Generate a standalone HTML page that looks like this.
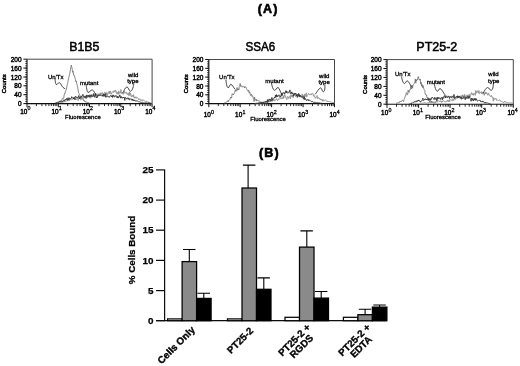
<!DOCTYPE html>
<html><head><meta charset="utf-8"><title>Figure</title>
<style>
html,body{margin:0;padding:0;background:#fff;}
svg{display:block;font-family:'Liberation Sans', sans-serif;}
</style></head>
<body>
<svg width="520" height="366" viewBox="0 0 520 366">
<defs><filter id="bl" x="0" y="0" width="520" height="366" filterUnits="userSpaceOnUse"><feGaussianBlur stdDeviation="0.4"/></filter></defs>
<rect width="520" height="366" fill="#fff"/>
<g filter="url(#bl)">
<path d="M27,59.2 H152.1 V103.6" fill="none" stroke="#333" stroke-width="0.9"/>
<path d="M27,59.2 V103.6 H152.1" fill="none" stroke="#111" stroke-width="1.15"/>
<line x1="23.4" y1="103.6" x2="27" y2="103.6" stroke="#111" stroke-width="1"/>
<text x="21.6" y="106.1" font-size="6.5" fill="#000" stroke="#000" stroke-width="0.42" text-anchor="end">0</text>
<line x1="23.4" y1="94.7" x2="27" y2="94.7" stroke="#111" stroke-width="1"/>
<text x="21.6" y="97.2" font-size="6.5" fill="#000" stroke="#000" stroke-width="0.42" text-anchor="end">40</text>
<line x1="23.4" y1="85.8" x2="27" y2="85.8" stroke="#111" stroke-width="1"/>
<text x="21.6" y="88.3" font-size="6.5" fill="#000" stroke="#000" stroke-width="0.42" text-anchor="end">80</text>
<line x1="23.4" y1="77.0" x2="27" y2="77.0" stroke="#111" stroke-width="1"/>
<text x="21.6" y="79.5" font-size="6.5" fill="#000" stroke="#000" stroke-width="0.42" text-anchor="end">120</text>
<line x1="23.4" y1="68.1" x2="27" y2="68.1" stroke="#111" stroke-width="1"/>
<text x="21.6" y="70.6" font-size="6.5" fill="#000" stroke="#000" stroke-width="0.42" text-anchor="end">160</text>
<line x1="23.4" y1="59.2" x2="27" y2="59.2" stroke="#111" stroke-width="1"/>
<text x="21.6" y="61.7" font-size="6.5" fill="#000" stroke="#000" stroke-width="0.42" text-anchor="end">200</text>
<line x1="25.3" y1="103.6" x2="27" y2="103.6" stroke="#111" stroke-width="0.85"/>
<line x1="25.3" y1="101.4" x2="27" y2="101.4" stroke="#111" stroke-width="0.85"/>
<line x1="25.3" y1="99.2" x2="27" y2="99.2" stroke="#111" stroke-width="0.85"/>
<line x1="25.3" y1="96.9" x2="27" y2="96.9" stroke="#111" stroke-width="0.85"/>
<line x1="25.3" y1="94.7" x2="27" y2="94.7" stroke="#111" stroke-width="0.85"/>
<line x1="25.3" y1="92.5" x2="27" y2="92.5" stroke="#111" stroke-width="0.85"/>
<line x1="25.3" y1="90.3" x2="27" y2="90.3" stroke="#111" stroke-width="0.85"/>
<line x1="25.3" y1="88.1" x2="27" y2="88.1" stroke="#111" stroke-width="0.85"/>
<line x1="25.3" y1="85.8" x2="27" y2="85.8" stroke="#111" stroke-width="0.85"/>
<line x1="25.3" y1="83.6" x2="27" y2="83.6" stroke="#111" stroke-width="0.85"/>
<line x1="25.3" y1="81.4" x2="27" y2="81.4" stroke="#111" stroke-width="0.85"/>
<line x1="25.3" y1="79.2" x2="27" y2="79.2" stroke="#111" stroke-width="0.85"/>
<line x1="25.3" y1="77.0" x2="27" y2="77.0" stroke="#111" stroke-width="0.85"/>
<line x1="25.3" y1="74.7" x2="27" y2="74.7" stroke="#111" stroke-width="0.85"/>
<line x1="25.3" y1="72.5" x2="27" y2="72.5" stroke="#111" stroke-width="0.85"/>
<line x1="25.3" y1="70.3" x2="27" y2="70.3" stroke="#111" stroke-width="0.85"/>
<line x1="25.3" y1="68.1" x2="27" y2="68.1" stroke="#111" stroke-width="0.85"/>
<line x1="25.3" y1="65.9" x2="27" y2="65.9" stroke="#111" stroke-width="0.85"/>
<line x1="25.3" y1="63.6" x2="27" y2="63.6" stroke="#111" stroke-width="0.85"/>
<line x1="25.3" y1="61.4" x2="27" y2="61.4" stroke="#111" stroke-width="0.85"/>
<line x1="27.0" y1="103.6" x2="27.0" y2="107.19999999999999" stroke="#111" stroke-width="1"/>
<text x="27.3" y="113.6" font-size="6.4" fill="#000" stroke="#000" stroke-width="0.42" text-anchor="end">10</text>
<text x="27.5" y="110.3" font-size="5.3" fill="#000" stroke="#000" stroke-width="0.3">0</text>
<line x1="36.4" y1="103.6" x2="36.4" y2="106.1" stroke="#111" stroke-width="0.9"/>
<line x1="41.9" y1="103.6" x2="41.9" y2="106.1" stroke="#111" stroke-width="0.9"/>
<line x1="45.8" y1="103.6" x2="45.8" y2="106.1" stroke="#111" stroke-width="0.9"/>
<line x1="48.9" y1="103.6" x2="48.9" y2="106.1" stroke="#111" stroke-width="0.9"/>
<line x1="51.3" y1="103.6" x2="51.3" y2="106.1" stroke="#111" stroke-width="0.9"/>
<line x1="53.4" y1="103.6" x2="53.4" y2="106.1" stroke="#111" stroke-width="0.9"/>
<line x1="55.2" y1="103.6" x2="55.2" y2="106.1" stroke="#111" stroke-width="0.9"/>
<line x1="56.8" y1="103.6" x2="56.8" y2="106.1" stroke="#111" stroke-width="0.9"/>
<line x1="58.3" y1="103.6" x2="58.3" y2="107.19999999999999" stroke="#111" stroke-width="1"/>
<text x="58.6" y="113.6" font-size="6.4" fill="#000" stroke="#000" stroke-width="0.42" text-anchor="end">10</text>
<text x="58.8" y="110.3" font-size="5.3" fill="#000" stroke="#000" stroke-width="0.3">1</text>
<line x1="67.7" y1="103.6" x2="67.7" y2="106.1" stroke="#111" stroke-width="0.9"/>
<line x1="73.2" y1="103.6" x2="73.2" y2="106.1" stroke="#111" stroke-width="0.9"/>
<line x1="77.1" y1="103.6" x2="77.1" y2="106.1" stroke="#111" stroke-width="0.9"/>
<line x1="80.1" y1="103.6" x2="80.1" y2="106.1" stroke="#111" stroke-width="0.9"/>
<line x1="82.6" y1="103.6" x2="82.6" y2="106.1" stroke="#111" stroke-width="0.9"/>
<line x1="84.7" y1="103.6" x2="84.7" y2="106.1" stroke="#111" stroke-width="0.9"/>
<line x1="86.5" y1="103.6" x2="86.5" y2="106.1" stroke="#111" stroke-width="0.9"/>
<line x1="88.1" y1="103.6" x2="88.1" y2="106.1" stroke="#111" stroke-width="0.9"/>
<line x1="89.5" y1="103.6" x2="89.5" y2="107.19999999999999" stroke="#111" stroke-width="1"/>
<text x="89.8" y="113.6" font-size="6.4" fill="#000" stroke="#000" stroke-width="0.42" text-anchor="end">10</text>
<text x="90.0" y="110.3" font-size="5.3" fill="#000" stroke="#000" stroke-width="0.3">2</text>
<line x1="99.0" y1="103.6" x2="99.0" y2="106.1" stroke="#111" stroke-width="0.9"/>
<line x1="104.5" y1="103.6" x2="104.5" y2="106.1" stroke="#111" stroke-width="0.9"/>
<line x1="108.4" y1="103.6" x2="108.4" y2="106.1" stroke="#111" stroke-width="0.9"/>
<line x1="111.4" y1="103.6" x2="111.4" y2="106.1" stroke="#111" stroke-width="0.9"/>
<line x1="113.9" y1="103.6" x2="113.9" y2="106.1" stroke="#111" stroke-width="0.9"/>
<line x1="116.0" y1="103.6" x2="116.0" y2="106.1" stroke="#111" stroke-width="0.9"/>
<line x1="117.8" y1="103.6" x2="117.8" y2="106.1" stroke="#111" stroke-width="0.9"/>
<line x1="119.4" y1="103.6" x2="119.4" y2="106.1" stroke="#111" stroke-width="0.9"/>
<line x1="120.8" y1="103.6" x2="120.8" y2="107.19999999999999" stroke="#111" stroke-width="1"/>
<text x="121.1" y="113.6" font-size="6.4" fill="#000" stroke="#000" stroke-width="0.42" text-anchor="end">10</text>
<text x="121.3" y="110.3" font-size="5.3" fill="#000" stroke="#000" stroke-width="0.3">3</text>
<line x1="130.2" y1="103.6" x2="130.2" y2="106.1" stroke="#111" stroke-width="0.9"/>
<line x1="135.7" y1="103.6" x2="135.7" y2="106.1" stroke="#111" stroke-width="0.9"/>
<line x1="139.7" y1="103.6" x2="139.7" y2="106.1" stroke="#111" stroke-width="0.9"/>
<line x1="142.7" y1="103.6" x2="142.7" y2="106.1" stroke="#111" stroke-width="0.9"/>
<line x1="145.2" y1="103.6" x2="145.2" y2="106.1" stroke="#111" stroke-width="0.9"/>
<line x1="147.3" y1="103.6" x2="147.3" y2="106.1" stroke="#111" stroke-width="0.9"/>
<line x1="149.1" y1="103.6" x2="149.1" y2="106.1" stroke="#111" stroke-width="0.9"/>
<line x1="150.7" y1="103.6" x2="150.7" y2="106.1" stroke="#111" stroke-width="0.9"/>
<line x1="152.1" y1="103.6" x2="152.1" y2="107.19999999999999" stroke="#111" stroke-width="1"/>
<text x="152.4" y="113.6" font-size="6.4" fill="#000" stroke="#000" stroke-width="0.42" text-anchor="end">10</text>
<text x="152.6" y="110.3" font-size="5.3" fill="#000" stroke="#000" stroke-width="0.3">4</text>
<text transform="translate(5.899999999999999,83.8) rotate(-90)" font-size="6" fill="#000" stroke="#000" stroke-width="0.42" text-anchor="middle">Counts</text>
<text x="65.1" y="118.5" font-size="6" fill="#000" stroke="#000" stroke-width="0.3" textLength="35.6" lengthAdjust="spacingAndGlyphs">Fluorescence</text>
<text x="69.2" y="51" font-size="13.1" fill="#000" stroke="#000" stroke-width="0.55" textLength="30.2" lengthAdjust="spacingAndGlyphs">B1B5</text>
<path d="M56.0,103.3 L56.5,102.9 L56.9,102.7 L57.4,102.1 L57.8,102.4 L58.3,102.1 L58.7,101.9 L59.2,101.9 L59.6,101.8 L60.1,101.1 L60.5,100.7 L61.0,100.4 L61.4,100.6 L61.9,100.1 L62.3,98.6 L62.8,98.2 L63.2,98.7 L63.7,98.2 L64.1,95.3 L64.6,93.4 L65.0,93.6 L65.5,90.9 L65.9,90.5 L66.4,89.7 L66.8,87.0 L67.3,84.5 L67.7,83.2 L68.2,80.0 L68.6,78.5 L69.1,76.2 L69.5,74.6 L70.0,72.1 L70.4,69.7 L70.9,66.8 L71.3,65.1 L71.8,67.1 L72.2,69.3 L72.7,72.3 L73.1,71.2 L73.6,75.1 L74.0,75.0 L74.5,75.5 L74.9,77.8 L75.4,79.3 L75.8,81.5 L76.3,80.9 L76.7,83.3 L77.2,85.2 L77.6,86.7 L78.1,90.0 L78.5,92.5 L79.0,93.5 L79.4,94.8 L79.9,95.2 L80.3,96.0 L80.8,96.6 L81.2,98.2 L81.7,96.9 L82.1,98.2 L82.6,99.2 L83.0,98.5 L83.5,100.6 L83.9,99.9 L84.4,100.6 L84.8,101.8 L85.3,101.1 L85.7,101.6 L86.2,102.4 L86.6,101.9 L87.1,102.2 L87.5,102.5 L88.0,102.6 L88.4,102.7 L88.9,102.8 L89.3,103.1 L89.8,103.2" fill="none" stroke="#6a6a6a" stroke-width="0.8" stroke-linejoin="round"/>
<path d="M57.0,103.2 L57.5,102.9 L57.9,102.9 L58.4,102.5 L58.8,102.8 L59.3,102.3 L59.7,102.5 L60.2,102.4 L60.6,102.1 L61.1,103.0 L61.5,101.9 L62.0,102.2 L62.4,102.3 L62.9,101.4 L63.3,102.2 L63.8,101.5 L64.2,101.9 L64.7,100.9 L65.1,100.8 L65.6,101.7 L66.0,101.3 L66.5,101.0 L66.9,101.1 L67.4,101.0 L67.8,99.9 L68.3,99.1 L68.7,99.3 L69.2,99.1 L69.6,98.7 L70.1,99.6 L70.5,99.6 L71.0,99.8 L71.4,99.9 L71.9,99.4 L72.3,99.4 L72.8,99.5 L73.2,98.6 L73.7,98.7 L74.1,99.2 L74.6,98.5 L75.0,98.5 L75.5,98.8 L75.9,100.0 L76.4,99.0 L76.8,98.3 L77.3,97.9 L77.7,98.3 L78.2,100.6 L78.6,95.0 L79.1,98.7 L79.5,98.3 L80.0,98.9 L80.4,96.6 L80.9,100.1 L81.3,98.8 L81.8,97.5 L82.2,97.7 L82.7,96.6 L83.1,97.4 L83.6,97.1 L84.0,98.3 L84.5,97.5 L84.9,97.0 L85.4,97.8 L85.8,97.6 L86.3,97.1 L86.7,95.0 L87.2,97.9 L87.6,95.3 L88.1,95.4 L88.5,96.4 L89.0,97.0 L89.4,98.0 L89.9,94.4 L90.3,97.9 L90.8,98.1 L91.2,95.6 L91.7,95.8 L92.1,95.3 L92.6,95.2 L93.0,94.3 L93.5,93.8 L93.9,95.4 L94.4,95.9 L94.8,97.6 L95.3,94.3 L95.7,93.0 L96.2,95.5 L96.6,94.7 L97.1,95.6 L97.5,94.6 L98.0,93.6 L98.4,94.1 L98.9,95.7 L99.3,95.0 L99.8,93.5 L100.2,95.5 L100.7,92.8 L101.1,93.7 L101.6,94.5 L102.0,92.6 L102.5,92.7 L102.9,94.0 L103.4,93.8 L103.8,93.5 L104.3,93.0 L104.7,92.3 L105.2,92.6 L105.6,96.9 L106.1,92.6 L106.5,95.0 L107.0,92.5 L107.4,94.6 L107.9,94.4 L108.3,93.4 L108.8,92.1 L109.2,91.2 L109.7,93.8 L110.1,91.1 L110.6,91.1 L111.0,94.2 L111.5,94.1 L111.9,92.4 L112.4,92.0 L112.8,91.5 L113.3,92.6 L113.7,91.6 L114.2,90.4 L114.6,91.2 L115.1,92.3 L115.5,90.2 L116.0,90.9 L116.4,92.2 L116.9,94.1 L117.3,92.4 L117.8,92.2 L118.2,94.4 L118.7,91.0 L119.1,91.4 L119.6,93.3 L120.0,93.6 L120.5,92.9 L120.9,89.4 L121.4,93.3 L121.8,93.3 L122.3,92.7 L122.7,93.5 L123.2,94.4 L123.6,93.0 L124.1,91.9 L124.5,91.0 L125.0,93.3 L125.4,92.5 L125.9,92.7 L126.3,92.2 L126.8,93.9 L127.2,94.5 L127.7,94.4 L128.1,92.8 L128.6,95.4 L129.0,94.9 L129.5,91.9 L129.9,95.7 L130.4,92.9 L130.8,94.1 L131.3,96.9 L131.7,96.6 L132.2,95.3 L132.6,95.3 L133.1,96.9 L133.5,94.7 L134.0,97.4 L134.4,96.9 L134.9,98.3 L135.3,97.5 L135.8,96.7 L136.2,98.3 L136.7,98.0 L137.1,97.2 L137.6,97.7 L138.0,98.1 L138.5,99.2 L138.9,100.0 L139.4,99.5 L139.8,98.7 L140.3,99.5 L140.7,100.4 L141.2,100.8 L141.6,99.7 L142.1,100.6 L142.5,100.4 L143.0,99.6 L143.4,100.2 L143.9,100.8 L144.3,100.9 L144.8,101.1 L145.2,101.2 L145.7,101.7 L146.1,101.3 L146.6,101.2 L147.0,102.1 L147.5,101.9 L147.9,102.4 L148.4,102.1 L148.8,102.7 L149.3,102.2 L149.7,102.3 L150.2,102.8 L150.6,103.0 L151.1,102.7 L151.5,103.2 L152.0,103.3" fill="none" stroke="#8c8c8c" stroke-width="0.9" stroke-linejoin="round"/>
<path d="M55.0,103.0 L55.5,103.1 L55.9,102.8 L56.4,102.7 L56.8,102.8 L57.3,102.5 L57.7,102.6 L58.2,102.3 L58.6,102.4 L59.1,101.5 L59.5,101.4 L60.0,101.0 L60.4,101.6 L60.9,101.1 L61.3,101.5 L61.8,101.1 L62.2,100.9 L62.7,101.8 L63.1,100.9 L63.6,100.4 L64.0,99.7 L64.5,100.9 L64.9,100.7 L65.4,99.2 L65.8,99.7 L66.3,99.8 L66.7,98.3 L67.2,99.1 L67.6,100.3 L68.1,97.7 L68.5,99.4 L69.0,100.5 L69.4,98.1 L69.9,98.1 L70.3,98.6 L70.8,98.8 L71.2,98.6 L71.7,96.7 L72.1,97.3 L72.6,98.1 L73.0,97.6 L73.5,99.0 L73.9,97.4 L74.4,97.2 L74.8,99.6 L75.3,97.4 L75.7,96.3 L76.2,97.3 L76.6,97.0 L77.1,97.9 L77.5,97.6 L78.0,96.7 L78.4,96.6 L78.9,96.3 L79.3,98.3 L79.8,99.0 L80.2,96.7 L80.7,97.3 L81.1,97.0 L81.6,96.0 L82.0,95.9 L82.5,95.9 L82.9,94.3 L83.4,95.6 L83.8,96.9 L84.3,97.4 L84.7,96.1 L85.2,95.9 L85.6,97.0 L86.1,98.5 L86.5,95.2 L87.0,95.3 L87.4,95.7 L87.9,96.7 L88.3,95.2 L88.8,96.6 L89.2,95.3 L89.7,96.6 L90.1,95.7 L90.6,95.5 L91.0,96.9 L91.5,94.7 L91.9,95.2 L92.4,96.8 L92.8,96.8 L93.3,96.2 L93.7,93.6 L94.2,96.8 L94.6,96.4 L95.1,95.6 L95.5,93.9 L96.0,96.9 L96.4,97.9 L96.9,96.6 L97.3,97.5 L97.8,95.3 L98.2,96.2 L98.7,95.3 L99.1,94.8 L99.6,95.6 L100.0,95.0 L100.5,95.2 L100.9,95.2 L101.4,95.6 L101.8,95.7 L102.3,96.2 L102.7,94.7 L103.2,96.4 L103.6,94.1 L104.1,96.2 L104.5,96.2 L105.0,93.6 L105.4,95.8 L105.9,97.4 L106.3,96.7 L106.8,95.7 L107.2,95.6 L107.7,96.6 L108.1,96.4 L108.6,97.2 L109.0,96.4 L109.5,97.3 L109.9,96.7 L110.4,95.5 L110.8,95.3 L111.3,95.8 L111.7,96.9 L112.2,95.5 L112.6,97.5 L113.1,94.9 L113.5,96.3 L114.0,95.6 L114.4,97.0 L114.9,96.9 L115.3,96.6 L115.8,95.4 L116.2,95.9 L116.7,96.2 L117.1,98.0 L117.6,96.3 L118.0,97.6 L118.5,98.1 L118.9,96.2 L119.4,96.6 L119.8,94.8 L120.3,96.9 L120.7,98.2 L121.2,96.4 L121.6,97.9 L122.1,98.4 L122.5,98.0 L123.0,97.2 L123.4,98.0 L123.9,97.1 L124.3,97.5 L124.8,100.4 L125.2,97.5 L125.7,97.5 L126.1,98.4 L126.6,98.6 L127.0,99.2 L127.5,97.9 L127.9,97.8 L128.4,98.0 L128.8,99.6 L129.3,99.9 L129.7,98.5 L130.2,98.8 L130.6,99.3 L131.1,98.7 L131.5,99.2 L132.0,100.4 L132.4,99.0 L132.9,100.2 L133.3,100.8 L133.8,99.6 L134.2,101.0 L134.7,100.5 L135.1,100.3 L135.6,101.2 L136.0,100.9 L136.5,100.9 L136.9,100.9 L137.4,101.0 L137.8,101.2 L138.3,101.5 L138.7,101.9 L139.2,101.7 L139.6,101.9 L140.1,101.8 L140.5,102.2 L141.0,102.1 L141.4,102.6 L141.9,102.4 L142.3,102.1 L142.8,102.5 L143.2,102.5 L143.7,102.9 L144.1,102.8 L144.6,103.0 L145.0,103.0 L145.5,102.8 L145.9,102.8 L146.4,102.9 L146.8,102.8 L147.3,103.4 L147.7,103.1 L148.2,102.8 L148.6,102.8 L149.1,103.1 L149.5,103.0 L150.0,102.8" fill="none" stroke="#303030" stroke-width="0.9" stroke-linejoin="round"/>
<text x="48" y="78.6" font-size="6" fill="#000" stroke="#000" stroke-width="0.3">Un'Tx</text>
<text x="80" y="85.1" font-size="6" fill="#000" stroke="#000" stroke-width="0.3">mutant</text>
<text x="128" y="76.8" font-size="6" fill="#000" stroke="#000" stroke-width="0.3">wild</text>
<text x="127.2" y="83.4" font-size="6" fill="#000" stroke="#000" stroke-width="0.3">type</text>
<path d="M55,78.5 C55.3,81 55.3,84 56.4,84.6 C57.6,84.8 58,82.4 59.4,82.7 C61,83.2 61.6,86.2 63,87.4 L65,88.8" fill="none" stroke="#111" stroke-width="0.75" stroke-linecap="round"/>
<path d="M86.2,85.8 C86.6,88 87,91.8 88,92.5 C89.4,92.8 90.6,89.6 92.5,90 C94,90.6 94.6,93.4 96.3,95" fill="none" stroke="#111" stroke-width="0.75" stroke-linecap="round"/>
<path d="M133.8,83.2 C133.6,86 132.6,90.7 130.6,91.3 C128.8,91.2 128.6,87 126.9,86.9 C125,87.4 124,91 122.7,93" fill="none" stroke="#111" stroke-width="0.75" stroke-linecap="round"/>
<path d="M208.8,59.5 H334.5 V103.6" fill="none" stroke="#333" stroke-width="0.9"/>
<path d="M208.8,59.5 V103.6 H334.5" fill="none" stroke="#111" stroke-width="1.15"/>
<line x1="205.20000000000002" y1="103.6" x2="208.8" y2="103.6" stroke="#111" stroke-width="1"/>
<text x="203.4" y="106.1" font-size="6.5" fill="#000" stroke="#000" stroke-width="0.42" text-anchor="end">0</text>
<line x1="205.20000000000002" y1="94.8" x2="208.8" y2="94.8" stroke="#111" stroke-width="1"/>
<text x="203.4" y="97.3" font-size="6.5" fill="#000" stroke="#000" stroke-width="0.42" text-anchor="end">40</text>
<line x1="205.20000000000002" y1="86.0" x2="208.8" y2="86.0" stroke="#111" stroke-width="1"/>
<text x="203.4" y="88.5" font-size="6.5" fill="#000" stroke="#000" stroke-width="0.42" text-anchor="end">80</text>
<line x1="205.20000000000002" y1="77.1" x2="208.8" y2="77.1" stroke="#111" stroke-width="1"/>
<text x="203.4" y="79.6" font-size="6.5" fill="#000" stroke="#000" stroke-width="0.42" text-anchor="end">120</text>
<line x1="205.20000000000002" y1="68.3" x2="208.8" y2="68.3" stroke="#111" stroke-width="1"/>
<text x="203.4" y="70.8" font-size="6.5" fill="#000" stroke="#000" stroke-width="0.42" text-anchor="end">160</text>
<line x1="205.20000000000002" y1="59.5" x2="208.8" y2="59.5" stroke="#111" stroke-width="1"/>
<text x="203.4" y="62.0" font-size="6.5" fill="#000" stroke="#000" stroke-width="0.42" text-anchor="end">200</text>
<line x1="207.10000000000002" y1="103.6" x2="208.8" y2="103.6" stroke="#111" stroke-width="0.85"/>
<line x1="207.10000000000002" y1="101.4" x2="208.8" y2="101.4" stroke="#111" stroke-width="0.85"/>
<line x1="207.10000000000002" y1="99.2" x2="208.8" y2="99.2" stroke="#111" stroke-width="0.85"/>
<line x1="207.10000000000002" y1="97.0" x2="208.8" y2="97.0" stroke="#111" stroke-width="0.85"/>
<line x1="207.10000000000002" y1="94.8" x2="208.8" y2="94.8" stroke="#111" stroke-width="0.85"/>
<line x1="207.10000000000002" y1="92.6" x2="208.8" y2="92.6" stroke="#111" stroke-width="0.85"/>
<line x1="207.10000000000002" y1="90.4" x2="208.8" y2="90.4" stroke="#111" stroke-width="0.85"/>
<line x1="207.10000000000002" y1="88.2" x2="208.8" y2="88.2" stroke="#111" stroke-width="0.85"/>
<line x1="207.10000000000002" y1="86.0" x2="208.8" y2="86.0" stroke="#111" stroke-width="0.85"/>
<line x1="207.10000000000002" y1="83.8" x2="208.8" y2="83.8" stroke="#111" stroke-width="0.85"/>
<line x1="207.10000000000002" y1="81.5" x2="208.8" y2="81.5" stroke="#111" stroke-width="0.85"/>
<line x1="207.10000000000002" y1="79.3" x2="208.8" y2="79.3" stroke="#111" stroke-width="0.85"/>
<line x1="207.10000000000002" y1="77.1" x2="208.8" y2="77.1" stroke="#111" stroke-width="0.85"/>
<line x1="207.10000000000002" y1="74.9" x2="208.8" y2="74.9" stroke="#111" stroke-width="0.85"/>
<line x1="207.10000000000002" y1="72.7" x2="208.8" y2="72.7" stroke="#111" stroke-width="0.85"/>
<line x1="207.10000000000002" y1="70.5" x2="208.8" y2="70.5" stroke="#111" stroke-width="0.85"/>
<line x1="207.10000000000002" y1="68.3" x2="208.8" y2="68.3" stroke="#111" stroke-width="0.85"/>
<line x1="207.10000000000002" y1="66.1" x2="208.8" y2="66.1" stroke="#111" stroke-width="0.85"/>
<line x1="207.10000000000002" y1="63.9" x2="208.8" y2="63.9" stroke="#111" stroke-width="0.85"/>
<line x1="207.10000000000002" y1="61.7" x2="208.8" y2="61.7" stroke="#111" stroke-width="0.85"/>
<line x1="208.8" y1="103.6" x2="208.8" y2="107.19999999999999" stroke="#111" stroke-width="1"/>
<text x="210.8" y="116.8" font-size="6.4" fill="#000" stroke="#000" stroke-width="0.42" text-anchor="end">10</text>
<text x="211.0" y="113.5" font-size="5.3" fill="#000" stroke="#000" stroke-width="0.3">0</text>
<line x1="218.3" y1="103.6" x2="218.3" y2="106.1" stroke="#111" stroke-width="0.9"/>
<line x1="223.8" y1="103.6" x2="223.8" y2="106.1" stroke="#111" stroke-width="0.9"/>
<line x1="227.7" y1="103.6" x2="227.7" y2="106.1" stroke="#111" stroke-width="0.9"/>
<line x1="230.8" y1="103.6" x2="230.8" y2="106.1" stroke="#111" stroke-width="0.9"/>
<line x1="233.3" y1="103.6" x2="233.3" y2="106.1" stroke="#111" stroke-width="0.9"/>
<line x1="235.4" y1="103.6" x2="235.4" y2="106.1" stroke="#111" stroke-width="0.9"/>
<line x1="237.2" y1="103.6" x2="237.2" y2="106.1" stroke="#111" stroke-width="0.9"/>
<line x1="238.8" y1="103.6" x2="238.8" y2="106.1" stroke="#111" stroke-width="0.9"/>
<line x1="240.2" y1="103.6" x2="240.2" y2="107.19999999999999" stroke="#111" stroke-width="1"/>
<text x="242.2" y="116.8" font-size="6.4" fill="#000" stroke="#000" stroke-width="0.42" text-anchor="end">10</text>
<text x="242.4" y="113.5" font-size="5.3" fill="#000" stroke="#000" stroke-width="0.3">1</text>
<line x1="249.7" y1="103.6" x2="249.7" y2="106.1" stroke="#111" stroke-width="0.9"/>
<line x1="255.2" y1="103.6" x2="255.2" y2="106.1" stroke="#111" stroke-width="0.9"/>
<line x1="259.1" y1="103.6" x2="259.1" y2="106.1" stroke="#111" stroke-width="0.9"/>
<line x1="262.2" y1="103.6" x2="262.2" y2="106.1" stroke="#111" stroke-width="0.9"/>
<line x1="264.7" y1="103.6" x2="264.7" y2="106.1" stroke="#111" stroke-width="0.9"/>
<line x1="266.8" y1="103.6" x2="266.8" y2="106.1" stroke="#111" stroke-width="0.9"/>
<line x1="268.6" y1="103.6" x2="268.6" y2="106.1" stroke="#111" stroke-width="0.9"/>
<line x1="270.2" y1="103.6" x2="270.2" y2="106.1" stroke="#111" stroke-width="0.9"/>
<line x1="271.6" y1="103.6" x2="271.6" y2="107.19999999999999" stroke="#111" stroke-width="1"/>
<text x="273.6" y="116.8" font-size="6.4" fill="#000" stroke="#000" stroke-width="0.42" text-anchor="end">10</text>
<text x="273.8" y="113.5" font-size="5.3" fill="#000" stroke="#000" stroke-width="0.3">2</text>
<line x1="281.1" y1="103.6" x2="281.1" y2="106.1" stroke="#111" stroke-width="0.9"/>
<line x1="286.6" y1="103.6" x2="286.6" y2="106.1" stroke="#111" stroke-width="0.9"/>
<line x1="290.6" y1="103.6" x2="290.6" y2="106.1" stroke="#111" stroke-width="0.9"/>
<line x1="293.6" y1="103.6" x2="293.6" y2="106.1" stroke="#111" stroke-width="0.9"/>
<line x1="296.1" y1="103.6" x2="296.1" y2="106.1" stroke="#111" stroke-width="0.9"/>
<line x1="298.2" y1="103.6" x2="298.2" y2="106.1" stroke="#111" stroke-width="0.9"/>
<line x1="300.0" y1="103.6" x2="300.0" y2="106.1" stroke="#111" stroke-width="0.9"/>
<line x1="301.6" y1="103.6" x2="301.6" y2="106.1" stroke="#111" stroke-width="0.9"/>
<line x1="303.1" y1="103.6" x2="303.1" y2="107.19999999999999" stroke="#111" stroke-width="1"/>
<text x="305.1" y="116.8" font-size="6.4" fill="#000" stroke="#000" stroke-width="0.42" text-anchor="end">10</text>
<text x="305.3" y="113.5" font-size="5.3" fill="#000" stroke="#000" stroke-width="0.3">3</text>
<line x1="312.5" y1="103.6" x2="312.5" y2="106.1" stroke="#111" stroke-width="0.9"/>
<line x1="318.1" y1="103.6" x2="318.1" y2="106.1" stroke="#111" stroke-width="0.9"/>
<line x1="322.0" y1="103.6" x2="322.0" y2="106.1" stroke="#111" stroke-width="0.9"/>
<line x1="325.0" y1="103.6" x2="325.0" y2="106.1" stroke="#111" stroke-width="0.9"/>
<line x1="327.5" y1="103.6" x2="327.5" y2="106.1" stroke="#111" stroke-width="0.9"/>
<line x1="329.6" y1="103.6" x2="329.6" y2="106.1" stroke="#111" stroke-width="0.9"/>
<line x1="331.5" y1="103.6" x2="331.5" y2="106.1" stroke="#111" stroke-width="0.9"/>
<line x1="333.1" y1="103.6" x2="333.1" y2="106.1" stroke="#111" stroke-width="0.9"/>
<line x1="334.5" y1="103.6" x2="334.5" y2="107.19999999999999" stroke="#111" stroke-width="1"/>
<text x="336.5" y="116.8" font-size="6.4" fill="#000" stroke="#000" stroke-width="0.42" text-anchor="end">10</text>
<text x="336.7" y="113.5" font-size="5.3" fill="#000" stroke="#000" stroke-width="0.3">4</text>
<text transform="translate(187.60000000000002,83.8) rotate(-90)" font-size="6" fill="#000" stroke="#000" stroke-width="0.42" text-anchor="middle">Counts</text>
<text x="250.3" y="121.4" font-size="6" fill="#000" stroke="#000" stroke-width="0.3" textLength="35.6" lengthAdjust="spacingAndGlyphs">Fluorescence</text>
<text x="245.5" y="51" font-size="13.1" fill="#000" stroke="#000" stroke-width="0.55" textLength="29.8" lengthAdjust="spacingAndGlyphs">SSA6</text>
<path d="M224.0,103.3 L224.4,103.0 L224.9,102.7 L225.3,102.9 L225.8,102.7 L226.2,102.0 L226.7,101.9 L227.1,101.2 L227.6,100.7 L228.0,101.9 L228.5,100.4 L228.9,100.7 L229.4,100.2 L229.8,99.7 L230.3,98.0 L230.7,97.1 L231.2,98.0 L231.6,98.0 L232.1,93.7 L232.5,94.0 L233.0,94.1 L233.4,95.0 L233.9,93.7 L234.3,93.4 L234.8,92.1 L235.2,90.0 L235.7,90.3 L236.1,91.4 L236.6,89.6 L237.0,87.5 L237.5,90.3 L237.9,88.8 L238.4,88.8 L238.8,90.0 L239.3,86.6 L239.7,86.1 L240.2,83.5 L240.6,86.4 L241.1,86.6 L241.5,85.8 L242.0,85.9 L242.4,87.2 L242.9,86.7 L243.3,86.8 L243.8,86.4 L244.2,86.6 L244.7,88.0 L245.1,86.8 L245.6,86.8 L246.0,87.3 L246.5,88.5 L246.9,89.6 L247.4,90.7 L247.8,90.9 L248.3,91.0 L248.7,90.0 L249.2,93.2 L249.6,91.8 L250.1,93.3 L250.5,95.5 L251.0,94.9 L251.4,94.1 L251.9,96.4 L252.3,95.7 L252.8,95.9 L253.2,98.4 L253.7,98.2 L254.1,101.5 L254.6,97.2 L255.0,98.8 L255.5,99.5 L255.9,100.5 L256.4,99.4 L256.8,101.1 L257.3,100.3 L257.7,100.0 L258.2,100.6 L258.6,101.0 L259.1,101.1 L259.5,101.0 L260.0,101.4 L260.4,102.0 L260.9,102.1 L261.3,102.6 L261.8,101.8 L262.2,102.0 L262.7,102.9 L263.1,102.6 L263.6,102.7 L264.0,102.5 L264.5,102.8 L264.9,102.8 L265.4,102.8 L265.8,103.1 L266.3,102.8 L266.7,103.1 L267.2,102.8 L267.6,103.2" fill="none" stroke="#6a6a6a" stroke-width="0.8" stroke-linejoin="round"/>
<path d="M255.0,103.4 L255.4,103.0 L255.9,103.1 L256.3,102.9 L256.8,102.9 L257.2,102.8 L257.7,103.1 L258.1,103.0 L258.6,102.7 L259.0,103.0 L259.5,103.0 L259.9,103.2 L260.4,103.0 L260.8,102.8 L261.3,102.7 L261.7,102.9 L262.2,102.9 L262.6,102.8 L263.1,102.7 L263.5,102.7 L264.0,102.3 L264.4,102.6 L264.9,102.8 L265.3,102.4 L265.8,102.3 L266.2,102.5 L266.7,102.1 L267.1,102.5 L267.6,102.0 L268.0,102.1 L268.5,101.6 L268.9,101.8 L269.4,102.1 L269.8,100.8 L270.3,101.9 L270.7,100.3 L271.2,101.0 L271.6,101.3 L272.1,100.6 L272.5,100.9 L273.0,101.3 L273.4,100.7 L273.9,99.3 L274.3,100.8 L274.8,100.8 L275.2,100.1 L275.7,99.9 L276.1,99.8 L276.6,98.5 L277.0,99.2 L277.5,100.7 L277.9,100.1 L278.4,99.7 L278.8,98.7 L279.3,98.6 L279.7,99.3 L280.2,98.7 L280.6,98.5 L281.1,97.9 L281.5,98.7 L282.0,97.4 L282.4,97.7 L282.9,98.8 L283.3,95.7 L283.8,98.1 L284.2,96.4 L284.7,94.6 L285.1,96.1 L285.6,96.1 L286.0,98.3 L286.5,98.3 L286.9,99.6 L287.4,96.6 L287.8,96.6 L288.3,96.8 L288.7,98.6 L289.2,97.6 L289.6,96.8 L290.1,95.7 L290.5,98.8 L291.0,94.7 L291.4,96.2 L291.9,96.2 L292.3,97.1 L292.8,94.8 L293.2,97.7 L293.7,96.0 L294.1,95.0 L294.6,95.3 L295.0,95.9 L295.5,95.3 L295.9,96.9 L296.4,94.8 L296.8,96.3 L297.3,98.0 L297.7,96.1 L298.2,96.8 L298.6,96.6 L299.1,93.6 L299.5,97.0 L300.0,95.4 L300.4,96.4 L300.9,96.7 L301.3,96.0 L301.8,95.6 L302.2,93.9 L302.7,96.2 L303.1,95.4 L303.6,95.8 L304.0,96.3 L304.5,93.9 L304.9,96.1 L305.4,96.4 L305.8,94.4 L306.3,92.8 L306.7,97.0 L307.2,95.3 L307.6,95.0 L308.1,94.4 L308.5,93.6 L309.0,93.7 L309.4,94.7 L309.9,94.7 L310.3,94.3 L310.8,93.8 L311.2,95.1 L311.7,93.7 L312.1,93.3 L312.6,93.6 L313.0,93.5 L313.5,96.2 L313.9,94.9 L314.4,96.8 L314.8,96.6 L315.3,98.3 L315.7,97.4 L316.2,97.7 L316.6,96.5 L317.1,95.4 L317.5,98.3 L318.0,99.0 L318.4,97.6 L318.9,97.8 L319.3,98.2 L319.8,98.1 L320.2,100.0 L320.7,99.1 L321.1,100.1 L321.6,99.9 L322.0,99.2 L322.5,101.2 L322.9,99.9 L323.4,99.7 L323.8,101.2 L324.3,100.8 L324.7,100.4 L325.2,100.2 L325.6,100.1 L326.1,100.5 L326.5,101.3 L327.0,100.8 L327.4,101.7 L327.9,101.2 L328.3,101.8 L328.8,101.2 L329.2,101.6 L329.7,101.7 L330.1,101.7 L330.6,101.8 L331.0,101.8 L331.5,102.0 L331.9,102.6 L332.4,102.2 L332.8,102.6 L333.3,102.7 L333.7,102.5 L334.2,102.7" fill="none" stroke="#8c8c8c" stroke-width="0.9" stroke-linejoin="round"/>
<path d="M258.0,103.2 L258.4,103.3 L258.9,102.9 L259.3,102.9 L259.8,102.7 L260.2,102.8 L260.7,102.6 L261.1,103.0 L261.6,102.2 L262.0,102.7 L262.5,102.2 L262.9,102.3 L263.4,102.8 L263.8,101.8 L264.3,102.1 L264.7,101.7 L265.2,102.3 L265.6,101.3 L266.1,102.0 L266.5,101.2 L267.0,102.3 L267.4,99.6 L267.9,102.4 L268.3,101.0 L268.8,99.4 L269.2,98.9 L269.7,100.4 L270.1,99.6 L270.6,99.3 L271.0,101.1 L271.5,99.5 L271.9,97.4 L272.4,100.4 L272.8,99.1 L273.3,98.9 L273.7,98.7 L274.2,98.2 L274.6,97.0 L275.1,97.8 L275.5,95.0 L276.0,97.2 L276.4,94.6 L276.9,96.9 L277.3,95.6 L277.8,96.6 L278.2,95.4 L278.7,95.5 L279.1,94.8 L279.6,95.4 L280.0,97.4 L280.5,96.1 L280.9,96.5 L281.4,93.5 L281.8,95.9 L282.3,95.1 L282.7,93.0 L283.2,92.5 L283.6,93.2 L284.1,92.5 L284.5,94.1 L285.0,93.5 L285.4,92.4 L285.9,90.6 L286.3,92.9 L286.8,91.1 L287.2,92.8 L287.7,93.0 L288.1,93.0 L288.6,92.9 L289.0,91.5 L289.5,91.8 L289.9,89.9 L290.4,93.5 L290.8,94.1 L291.3,93.1 L291.7,91.9 L292.2,93.8 L292.6,92.8 L293.1,93.5 L293.5,96.1 L294.0,93.9 L294.4,93.1 L294.9,94.8 L295.3,94.1 L295.8,93.0 L296.2,94.7 L296.7,96.0 L297.1,94.3 L297.6,96.7 L298.0,94.9 L298.5,93.6 L298.9,96.0 L299.4,94.7 L299.8,97.1 L300.3,95.3 L300.7,96.3 L301.2,96.1 L301.6,97.1 L302.1,97.8 L302.5,97.4 L303.0,96.1 L303.4,99.1 L303.9,98.9 L304.3,96.5 L304.8,99.8 L305.2,98.4 L305.7,99.2 L306.1,99.8 L306.6,100.7 L307.0,99.7 L307.5,99.6 L307.9,100.2 L308.4,100.7 L308.8,99.5 L309.3,100.2 L309.7,100.6 L310.2,100.6 L310.6,101.0 L311.1,101.3 L311.5,101.4 L312.0,102.1 L312.4,101.4 L312.9,101.9 L313.3,102.0 L313.8,102.6 L314.2,102.8 L314.7,102.1 L315.1,102.4 L315.6,102.4 L316.0,102.6 L316.5,102.7 L316.9,102.7 L317.4,102.7 L317.8,102.8 L318.3,102.6 L318.7,103.3 L319.2,102.9 L319.6,102.8 L320.1,103.3 L320.5,103.2 L321.0,103.4 L321.4,103.1 L321.9,103.4" fill="none" stroke="#303030" stroke-width="0.9" stroke-linejoin="round"/>
<text x="219.1" y="79.4" font-size="6" fill="#000" stroke="#000" stroke-width="0.3">Un'Tx</text>
<text x="265.3" y="83.2" font-size="6" fill="#000" stroke="#000" stroke-width="0.3">mutant</text>
<text x="319.1" y="78.2" font-size="6" fill="#000" stroke="#000" stroke-width="0.3">wild</text>
<text x="318.4" y="84.3" font-size="6" fill="#000" stroke="#000" stroke-width="0.3">type</text>
<path d="M225.9,80.1 C226.3,83 226.6,87 228,87.8 C229.4,87.9 229.6,84.4 230.8,84.3 C232.6,84.6 233.2,87.6 235,89.2" fill="none" stroke="#111" stroke-width="0.75" stroke-linecap="round"/>
<path d="M271.5,83.5 C272,86 273,89.8 274.4,90.4 C276,90.4 276.4,87.4 278,87.5 C279.6,88 280,92 281.6,94" fill="none" stroke="#111" stroke-width="0.75" stroke-linecap="round"/>
<path d="M324.9,84.8 C325,87.5 325,91.3 323.4,91.8 C321.8,91.6 322,88 320.6,87.9 C318.6,88.4 317,92 315.5,94" fill="none" stroke="#111" stroke-width="0.75" stroke-linecap="round"/>
<path d="M387,59.6 H513.3 V104.2" fill="none" stroke="#333" stroke-width="0.9"/>
<path d="M387,59.6 V104.2 H513.3" fill="none" stroke="#111" stroke-width="1.15"/>
<line x1="383.4" y1="104.2" x2="387" y2="104.2" stroke="#111" stroke-width="1"/>
<text x="381.6" y="106.7" font-size="6.5" fill="#000" stroke="#000" stroke-width="0.42" text-anchor="end">0</text>
<line x1="383.4" y1="95.3" x2="387" y2="95.3" stroke="#111" stroke-width="1"/>
<text x="381.6" y="97.8" font-size="6.5" fill="#000" stroke="#000" stroke-width="0.42" text-anchor="end">40</text>
<line x1="383.4" y1="86.4" x2="387" y2="86.4" stroke="#111" stroke-width="1"/>
<text x="381.6" y="88.9" font-size="6.5" fill="#000" stroke="#000" stroke-width="0.42" text-anchor="end">80</text>
<line x1="383.4" y1="77.4" x2="387" y2="77.4" stroke="#111" stroke-width="1"/>
<text x="381.6" y="79.9" font-size="6.5" fill="#000" stroke="#000" stroke-width="0.42" text-anchor="end">120</text>
<line x1="383.4" y1="68.5" x2="387" y2="68.5" stroke="#111" stroke-width="1"/>
<text x="381.6" y="71.0" font-size="6.5" fill="#000" stroke="#000" stroke-width="0.42" text-anchor="end">160</text>
<line x1="383.4" y1="59.6" x2="387" y2="59.6" stroke="#111" stroke-width="1"/>
<text x="381.6" y="62.1" font-size="6.5" fill="#000" stroke="#000" stroke-width="0.42" text-anchor="end">200</text>
<line x1="385.3" y1="104.2" x2="387" y2="104.2" stroke="#111" stroke-width="0.85"/>
<line x1="385.3" y1="102.0" x2="387" y2="102.0" stroke="#111" stroke-width="0.85"/>
<line x1="385.3" y1="99.7" x2="387" y2="99.7" stroke="#111" stroke-width="0.85"/>
<line x1="385.3" y1="97.5" x2="387" y2="97.5" stroke="#111" stroke-width="0.85"/>
<line x1="385.3" y1="95.3" x2="387" y2="95.3" stroke="#111" stroke-width="0.85"/>
<line x1="385.3" y1="93.0" x2="387" y2="93.0" stroke="#111" stroke-width="0.85"/>
<line x1="385.3" y1="90.8" x2="387" y2="90.8" stroke="#111" stroke-width="0.85"/>
<line x1="385.3" y1="88.6" x2="387" y2="88.6" stroke="#111" stroke-width="0.85"/>
<line x1="385.3" y1="86.4" x2="387" y2="86.4" stroke="#111" stroke-width="0.85"/>
<line x1="385.3" y1="84.1" x2="387" y2="84.1" stroke="#111" stroke-width="0.85"/>
<line x1="385.3" y1="81.9" x2="387" y2="81.9" stroke="#111" stroke-width="0.85"/>
<line x1="385.3" y1="79.7" x2="387" y2="79.7" stroke="#111" stroke-width="0.85"/>
<line x1="385.3" y1="77.4" x2="387" y2="77.4" stroke="#111" stroke-width="0.85"/>
<line x1="385.3" y1="75.2" x2="387" y2="75.2" stroke="#111" stroke-width="0.85"/>
<line x1="385.3" y1="73.0" x2="387" y2="73.0" stroke="#111" stroke-width="0.85"/>
<line x1="385.3" y1="70.8" x2="387" y2="70.8" stroke="#111" stroke-width="0.85"/>
<line x1="385.3" y1="68.5" x2="387" y2="68.5" stroke="#111" stroke-width="0.85"/>
<line x1="385.3" y1="66.3" x2="387" y2="66.3" stroke="#111" stroke-width="0.85"/>
<line x1="385.3" y1="64.1" x2="387" y2="64.1" stroke="#111" stroke-width="0.85"/>
<line x1="385.3" y1="61.8" x2="387" y2="61.8" stroke="#111" stroke-width="0.85"/>
<line x1="387.0" y1="104.2" x2="387.0" y2="107.8" stroke="#111" stroke-width="1"/>
<text x="388.2" y="115.0" font-size="6.4" fill="#000" stroke="#000" stroke-width="0.42" text-anchor="end">10</text>
<text x="388.4" y="111.7" font-size="5.3" fill="#000" stroke="#000" stroke-width="0.3">0</text>
<line x1="396.5" y1="104.2" x2="396.5" y2="106.7" stroke="#111" stroke-width="0.9"/>
<line x1="402.1" y1="104.2" x2="402.1" y2="106.7" stroke="#111" stroke-width="0.9"/>
<line x1="406.0" y1="104.2" x2="406.0" y2="106.7" stroke="#111" stroke-width="0.9"/>
<line x1="409.1" y1="104.2" x2="409.1" y2="106.7" stroke="#111" stroke-width="0.9"/>
<line x1="411.6" y1="104.2" x2="411.6" y2="106.7" stroke="#111" stroke-width="0.9"/>
<line x1="413.7" y1="104.2" x2="413.7" y2="106.7" stroke="#111" stroke-width="0.9"/>
<line x1="415.5" y1="104.2" x2="415.5" y2="106.7" stroke="#111" stroke-width="0.9"/>
<line x1="417.1" y1="104.2" x2="417.1" y2="106.7" stroke="#111" stroke-width="0.9"/>
<line x1="418.6" y1="104.2" x2="418.6" y2="107.8" stroke="#111" stroke-width="1"/>
<text x="419.8" y="115.0" font-size="6.4" fill="#000" stroke="#000" stroke-width="0.42" text-anchor="end">10</text>
<text x="420.0" y="111.7" font-size="5.3" fill="#000" stroke="#000" stroke-width="0.3">1</text>
<line x1="428.1" y1="104.2" x2="428.1" y2="106.7" stroke="#111" stroke-width="0.9"/>
<line x1="433.6" y1="104.2" x2="433.6" y2="106.7" stroke="#111" stroke-width="0.9"/>
<line x1="437.6" y1="104.2" x2="437.6" y2="106.7" stroke="#111" stroke-width="0.9"/>
<line x1="440.6" y1="104.2" x2="440.6" y2="106.7" stroke="#111" stroke-width="0.9"/>
<line x1="443.1" y1="104.2" x2="443.1" y2="106.7" stroke="#111" stroke-width="0.9"/>
<line x1="445.3" y1="104.2" x2="445.3" y2="106.7" stroke="#111" stroke-width="0.9"/>
<line x1="447.1" y1="104.2" x2="447.1" y2="106.7" stroke="#111" stroke-width="0.9"/>
<line x1="448.7" y1="104.2" x2="448.7" y2="106.7" stroke="#111" stroke-width="0.9"/>
<line x1="450.1" y1="104.2" x2="450.1" y2="107.8" stroke="#111" stroke-width="1"/>
<text x="451.3" y="115.0" font-size="6.4" fill="#000" stroke="#000" stroke-width="0.42" text-anchor="end">10</text>
<text x="451.5" y="111.7" font-size="5.3" fill="#000" stroke="#000" stroke-width="0.3">2</text>
<line x1="459.7" y1="104.2" x2="459.7" y2="106.7" stroke="#111" stroke-width="0.9"/>
<line x1="465.2" y1="104.2" x2="465.2" y2="106.7" stroke="#111" stroke-width="0.9"/>
<line x1="469.2" y1="104.2" x2="469.2" y2="106.7" stroke="#111" stroke-width="0.9"/>
<line x1="472.2" y1="104.2" x2="472.2" y2="106.7" stroke="#111" stroke-width="0.9"/>
<line x1="474.7" y1="104.2" x2="474.7" y2="106.7" stroke="#111" stroke-width="0.9"/>
<line x1="476.8" y1="104.2" x2="476.8" y2="106.7" stroke="#111" stroke-width="0.9"/>
<line x1="478.7" y1="104.2" x2="478.7" y2="106.7" stroke="#111" stroke-width="0.9"/>
<line x1="480.3" y1="104.2" x2="480.3" y2="106.7" stroke="#111" stroke-width="0.9"/>
<line x1="481.7" y1="104.2" x2="481.7" y2="107.8" stroke="#111" stroke-width="1"/>
<text x="482.9" y="115.0" font-size="6.4" fill="#000" stroke="#000" stroke-width="0.42" text-anchor="end">10</text>
<text x="483.1" y="111.7" font-size="5.3" fill="#000" stroke="#000" stroke-width="0.3">3</text>
<line x1="491.2" y1="104.2" x2="491.2" y2="106.7" stroke="#111" stroke-width="0.9"/>
<line x1="496.8" y1="104.2" x2="496.8" y2="106.7" stroke="#111" stroke-width="0.9"/>
<line x1="500.7" y1="104.2" x2="500.7" y2="106.7" stroke="#111" stroke-width="0.9"/>
<line x1="503.8" y1="104.2" x2="503.8" y2="106.7" stroke="#111" stroke-width="0.9"/>
<line x1="506.3" y1="104.2" x2="506.3" y2="106.7" stroke="#111" stroke-width="0.9"/>
<line x1="508.4" y1="104.2" x2="508.4" y2="106.7" stroke="#111" stroke-width="0.9"/>
<line x1="510.2" y1="104.2" x2="510.2" y2="106.7" stroke="#111" stroke-width="0.9"/>
<line x1="511.9" y1="104.2" x2="511.9" y2="106.7" stroke="#111" stroke-width="0.9"/>
<line x1="513.3" y1="104.2" x2="513.3" y2="107.8" stroke="#111" stroke-width="1"/>
<text x="514.5" y="115.0" font-size="6.4" fill="#000" stroke="#000" stroke-width="0.42" text-anchor="end">10</text>
<text x="514.7" y="111.7" font-size="5.3" fill="#000" stroke="#000" stroke-width="0.3">4</text>
<text transform="translate(367.3,84.4) rotate(-90)" font-size="6" fill="#000" stroke="#000" stroke-width="0.42" text-anchor="middle">Counts</text>
<text x="425.3" y="118.5" font-size="6" fill="#000" stroke="#000" stroke-width="0.3" textLength="35.6" lengthAdjust="spacingAndGlyphs">Fluorescence</text>
<text x="416.3" y="50.7" font-size="13.1" fill="#000" stroke="#000" stroke-width="0.55" textLength="41" lengthAdjust="spacingAndGlyphs">PT25-2</text>
<path d="M396.0,103.3 L396.4,103.3 L396.9,103.2 L397.3,102.6 L397.8,103.3 L398.2,103.0 L398.7,102.6 L399.1,102.0 L399.6,102.4 L400.0,101.2 L400.5,101.7 L400.9,102.0 L401.4,101.3 L401.8,100.6 L402.3,100.4 L402.7,100.2 L403.2,101.2 L403.6,101.5 L404.1,99.4 L404.5,98.5 L405.0,97.1 L405.4,95.6 L405.9,95.6 L406.3,92.6 L406.8,93.6 L407.2,94.6 L407.7,94.6 L408.1,90.1 L408.6,91.1 L409.0,92.6 L409.5,90.3 L409.9,89.4 L410.4,89.5 L410.8,85.6 L411.3,87.3 L411.7,89.0 L412.2,85.2 L412.6,87.9 L413.1,85.0 L413.5,84.7 L414.0,83.7 L414.4,83.4 L414.9,81.8 L415.3,78.9 L415.8,83.1 L416.2,79.7 L416.7,80.8 L417.1,79.4 L417.6,79.9 L418.0,76.6 L418.5,76.9 L418.9,78.9 L419.4,80.1 L419.8,80.0 L420.3,79.1 L420.7,84.1 L421.2,82.3 L421.6,86.2 L422.1,84.5 L422.5,87.6 L423.0,85.5 L423.4,87.0 L423.9,89.1 L424.3,89.9 L424.8,90.6 L425.2,94.3 L425.7,94.1 L426.1,95.3 L426.6,95.0 L427.0,97.9 L427.5,98.1 L427.9,97.4 L428.4,98.1 L428.8,98.0 L429.3,100.7 L429.7,102.1 L430.2,99.2 L430.6,100.1 L431.1,102.7 L431.5,101.2 L432.0,102.4 L432.4,101.7 L432.9,102.0 L433.3,102.8 L433.8,102.8 L434.2,103.0 L434.7,103.0 L435.1,103.3 L435.6,103.1" fill="none" stroke="#6a6a6a" stroke-width="0.8" stroke-linejoin="round"/>
<path d="M420.0,103.5 L420.4,103.2 L420.9,103.3 L421.3,103.2 L421.8,103.4 L422.2,103.4 L422.7,103.0 L423.1,102.8 L423.6,103.0 L424.0,102.9 L424.5,102.8 L424.9,102.5 L425.4,103.1 L425.8,102.8 L426.3,103.5 L426.7,103.1 L427.2,103.2 L427.6,102.6 L428.1,103.0 L428.5,102.6 L429.0,102.7 L429.4,102.0 L429.9,102.6 L430.3,102.5 L430.8,102.4 L431.2,102.5 L431.7,102.6 L432.1,102.6 L432.6,102.3 L433.0,102.5 L433.5,101.9 L433.9,101.9 L434.4,102.7 L434.8,101.8 L435.3,102.9 L435.7,101.5 L436.2,102.1 L436.6,101.8 L437.1,101.8 L437.5,101.8 L438.0,101.4 L438.4,101.0 L438.9,100.6 L439.3,101.4 L439.8,101.9 L440.2,100.8 L440.7,100.9 L441.1,101.2 L441.6,102.5 L442.0,100.9 L442.5,102.0 L442.9,100.7 L443.4,100.5 L443.8,101.0 L444.3,101.5 L444.7,101.4 L445.2,102.2 L445.6,101.5 L446.1,101.7 L446.5,101.6 L447.0,101.7 L447.4,100.1 L447.9,100.0 L448.3,101.9 L448.8,100.3 L449.2,99.8 L449.7,101.6 L450.1,99.4 L450.6,100.2 L451.0,99.7 L451.5,100.0 L451.9,100.6 L452.4,100.7 L452.8,98.7 L453.3,99.2 L453.7,100.6 L454.2,99.2 L454.6,96.9 L455.1,98.2 L455.5,99.5 L456.0,99.0 L456.4,96.9 L456.9,98.2 L457.3,98.3 L457.8,96.0 L458.2,97.8 L458.7,97.3 L459.1,96.2 L459.6,97.0 L460.0,97.6 L460.5,96.4 L460.9,95.6 L461.4,99.6 L461.8,97.3 L462.3,94.8 L462.7,97.3 L463.2,96.3 L463.6,95.5 L464.1,97.3 L464.5,94.4 L465.0,97.2 L465.4,99.0 L465.9,95.4 L466.3,95.7 L466.8,96.9 L467.2,94.8 L467.7,95.2 L468.1,95.0 L468.6,96.8 L469.0,94.4 L469.5,94.4 L469.9,97.6 L470.4,95.3 L470.8,95.2 L471.3,92.7 L471.7,92.6 L472.2,94.8 L472.6,94.9 L473.1,93.4 L473.5,95.3 L474.0,93.7 L474.4,93.1 L474.9,93.7 L475.3,95.4 L475.8,90.5 L476.2,93.3 L476.7,91.4 L477.1,91.2 L477.6,90.9 L478.0,92.9 L478.5,92.9 L478.9,90.5 L479.4,93.6 L479.8,92.2 L480.3,93.1 L480.7,92.4 L481.2,91.7 L481.6,93.6 L482.1,92.2 L482.5,93.7 L483.0,92.7 L483.4,94.2 L483.9,92.5 L484.3,95.4 L484.8,94.0 L485.2,92.3 L485.7,94.0 L486.1,92.2 L486.6,93.7 L487.0,93.6 L487.5,93.8 L487.9,95.3 L488.4,93.0 L488.8,93.8 L489.3,94.8 L489.7,95.1 L490.2,96.4 L490.6,96.2 L491.1,96.9 L491.5,95.4 L492.0,96.8 L492.4,97.7 L492.9,97.8 L493.3,101.2 L493.8,97.7 L494.2,99.0 L494.7,99.6 L495.1,99.3 L495.6,98.4 L496.0,98.2 L496.5,100.3 L496.9,100.3 L497.4,99.8 L497.8,100.3 L498.3,100.8 L498.7,100.5 L499.2,100.4 L499.6,99.7 L500.1,100.1 L500.5,101.2 L501.0,101.3 L501.4,101.2 L501.9,101.7 L502.3,102.1 L502.8,101.9 L503.2,102.0 L503.7,102.8 L504.1,102.4 L504.6,101.1 L505.0,101.6 L505.5,101.8 L505.9,102.3 L506.4,102.3 L506.8,102.6 L507.3,102.7 L507.7,102.4 L508.2,102.6 L508.6,102.7 L509.1,102.8 L509.5,102.9 L510.0,102.6 L510.4,102.9 L510.9,102.9 L511.3,102.9 L511.8,102.9 L512.2,103.0 L512.7,103.2" fill="none" stroke="#8c8c8c" stroke-width="0.9" stroke-linejoin="round"/>
<path d="M409.0,104.0 L409.4,104.0 L409.9,103.8 L410.3,103.8 L410.8,103.8 L411.2,103.9 L411.7,102.9 L412.1,102.5 L412.6,103.0 L413.0,102.7 L413.5,102.4 L413.9,102.5 L414.4,101.5 L414.8,102.1 L415.3,102.1 L415.7,101.6 L416.2,100.7 L416.6,101.7 L417.1,101.8 L417.5,101.0 L418.0,100.2 L418.4,101.0 L418.9,99.9 L419.3,100.8 L419.8,101.0 L420.2,101.8 L420.7,101.9 L421.1,100.8 L421.6,101.0 L422.0,100.6 L422.5,99.5 L422.9,98.1 L423.4,100.6 L423.8,100.3 L424.3,100.1 L424.7,99.1 L425.2,98.9 L425.6,98.8 L426.1,100.0 L426.5,99.0 L427.0,100.0 L427.4,98.9 L427.9,98.6 L428.3,100.5 L428.8,98.6 L429.2,98.5 L429.7,100.0 L430.1,99.2 L430.6,98.7 L431.0,99.7 L431.5,97.8 L431.9,97.9 L432.4,97.1 L432.8,97.8 L433.3,98.6 L433.7,99.3 L434.2,99.7 L434.6,97.4 L435.1,99.0 L435.5,99.3 L436.0,97.7 L436.4,98.7 L436.9,101.2 L437.3,97.3 L437.8,99.2 L438.2,97.3 L438.7,98.4 L439.1,98.7 L439.6,97.7 L440.0,98.4 L440.5,99.4 L440.9,97.8 L441.4,97.6 L441.8,97.3 L442.3,99.9 L442.7,97.3 L443.2,97.6 L443.6,98.4 L444.1,95.8 L444.5,95.9 L445.0,95.7 L445.4,98.0 L445.9,95.6 L446.3,96.9 L446.8,97.2 L447.2,97.9 L447.7,96.6 L448.1,95.9 L448.6,96.9 L449.0,96.5 L449.5,98.5 L449.9,96.6 L450.4,96.0 L450.8,96.6 L451.3,98.1 L451.7,97.6 L452.2,95.9 L452.6,96.7 L453.1,97.5 L453.5,97.2 L454.0,94.4 L454.4,98.5 L454.9,97.4 L455.3,97.6 L455.8,96.8 L456.2,96.8 L456.7,96.2 L457.1,97.1 L457.6,95.7 L458.0,97.9 L458.5,96.4 L458.9,97.6 L459.4,96.4 L459.8,96.1 L460.3,98.5 L460.7,98.0 L461.2,96.9 L461.6,98.5 L462.1,98.0 L462.5,98.1 L463.0,98.8 L463.4,96.8 L463.9,97.0 L464.3,96.9 L464.8,97.3 L465.2,99.7 L465.7,97.3 L466.1,97.1 L466.6,97.9 L467.0,98.7 L467.5,96.3 L467.9,96.4 L468.4,98.5 L468.8,96.5 L469.3,96.1 L469.7,97.8 L470.2,98.8 L470.6,99.3 L471.1,101.3 L471.5,98.0 L472.0,98.6 L472.4,100.2 L472.9,98.5 L473.3,100.9 L473.8,100.0 L474.2,98.6 L474.7,100.2 L475.1,98.3 L475.6,100.4 L476.0,98.8 L476.5,98.8 L476.9,100.6 L477.4,101.0 L477.8,100.8 L478.3,100.6 L478.7,101.0 L479.2,100.3 L479.6,100.4 L480.1,100.1 L480.5,101.2 L481.0,102.0 L481.4,101.9 L481.9,101.1 L482.3,101.0 L482.8,102.1 L483.2,101.5 L483.7,101.7 L484.1,102.2 L484.6,103.2 L485.0,102.6 L485.5,102.1 L485.9,103.2 L486.4,102.7 L486.8,103.1 L487.3,102.8 L487.7,103.2 L488.2,103.5 L488.6,103.3 L489.1,103.7 L489.5,103.6 L490.0,103.7 L490.4,104.0 L490.9,103.9" fill="none" stroke="#303030" stroke-width="0.9" stroke-linejoin="round"/>
<text x="395" y="76.3" font-size="6" fill="#000" stroke="#000" stroke-width="0.3">Un'Tx</text>
<text x="426.7" y="84.1" font-size="6" fill="#000" stroke="#000" stroke-width="0.3">mutant</text>
<text x="488.3" y="76.2" font-size="6" fill="#000" stroke="#000" stroke-width="0.3">wild</text>
<text x="488" y="83.2" font-size="6" fill="#000" stroke="#000" stroke-width="0.3">type</text>
<path d="M401.6,76.8 C402,79.5 402.8,83 404.4,83.6 C405.8,83.6 406,80.8 407.2,80.8 C409,81.2 409.8,84.6 411.4,86.4" fill="none" stroke="#111" stroke-width="0.75" stroke-linecap="round"/>
<path d="M434.4,84.5 C434.9,87 435.7,90.7 437.2,91.3 C438.7,91.3 438.7,88.5 440,88.5 C442,88.9 443,92.7 444.9,94.7" fill="none" stroke="#111" stroke-width="0.75" stroke-linecap="round"/>
<path d="M493.3,84 C493.3,86.5 493,90 491.2,90.4 C489.4,90.2 489.4,87.6 487.6,87.5 C485.6,88 484.6,91 483.2,92.8" fill="none" stroke="#111" stroke-width="0.75" stroke-linecap="round"/>
<text x="268.2" y="12.5" font-size="12.5" font-weight="bold" letter-spacing="1.2" text-anchor="middle" fill="#000" stroke="#000" stroke-width="0.6">(A)</text>
<text x="269.4" y="156.9" font-size="12.5" font-weight="bold" letter-spacing="1.2" text-anchor="middle" fill="#000" stroke="#000" stroke-width="0.6">(B)</text>
<line x1="164.6" y1="169.45" x2="164.6" y2="321.2" stroke="#111" stroke-width="1.2"/>
<line x1="156.0" y1="320.7" x2="386.6" y2="320.7" stroke="#111" stroke-width="1.2"/>
<line x1="156.0" y1="320.7" x2="164.6" y2="320.7" stroke="#111" stroke-width="1.2"/>
<text x="153.6" y="323.9" font-size="9.9" font-weight="bold" text-anchor="end" fill="#000" stroke="#000" stroke-width="0.25">0</text>
<line x1="156.0" y1="290.6" x2="164.6" y2="290.6" stroke="#111" stroke-width="1.2"/>
<text x="153.6" y="293.8" font-size="9.9" font-weight="bold" text-anchor="end" fill="#000" stroke="#000" stroke-width="0.25">5</text>
<line x1="156.0" y1="260.4" x2="164.6" y2="260.4" stroke="#111" stroke-width="1.2"/>
<text x="153.6" y="263.6" font-size="9.9" font-weight="bold" text-anchor="end" fill="#000" stroke="#000" stroke-width="0.25">10</text>
<line x1="156.0" y1="230.2" x2="164.6" y2="230.2" stroke="#111" stroke-width="1.2"/>
<text x="153.6" y="233.4" font-size="9.9" font-weight="bold" text-anchor="end" fill="#000" stroke="#000" stroke-width="0.25">15</text>
<line x1="156.0" y1="200.1" x2="164.6" y2="200.1" stroke="#111" stroke-width="1.2"/>
<text x="153.6" y="203.3" font-size="9.9" font-weight="bold" text-anchor="end" fill="#000" stroke="#000" stroke-width="0.25">20</text>
<line x1="156.0" y1="169.9" x2="164.6" y2="169.9" stroke="#111" stroke-width="1.2"/>
<text x="153.6" y="173.1" font-size="9.9" font-weight="bold" text-anchor="end" fill="#000" stroke="#000" stroke-width="0.25">25</text>
<text transform="translate(135,250) rotate(-90)" font-size="9.8" font-weight="bold" text-anchor="middle" fill="#000" stroke="#000" stroke-width="0.25">% Cells Bound</text>
<rect x="167.6" y="318.9" width="14.5" height="1.8" fill="#fff" stroke="#000" stroke-width="1.25"/>
<path d="M189.3,261.6 V249.5 M183.0,249.5 H195.5" stroke="#000" stroke-width="1.1" fill="none"/>
<rect x="182.1" y="261.6" width="14.5" height="59.1" fill="#8a8a8a" stroke="#000" stroke-width="1.25"/>
<path d="M203.8,298.4 V293.3 M197.5,293.3 H210.0" stroke="#000" stroke-width="1.1" fill="none"/>
<rect x="196.6" y="298.4" width="14.5" height="22.3" fill="#000" stroke="#000" stroke-width="1.25"/>
<rect x="227.5" y="318.9" width="14.5" height="1.8" fill="#fff" stroke="#000" stroke-width="1.25"/>
<path d="M248.1,188.0 V165.1 M242.9,165.1 H255.4" stroke="#000" stroke-width="1.1" fill="none"/>
<rect x="242.0" y="188.0" width="14.5" height="132.7" fill="#8a8a8a" stroke="#000" stroke-width="1.25"/>
<path d="M263.8,289.3 V277.9 M257.4,277.9 H269.9" stroke="#000" stroke-width="1.1" fill="none"/>
<rect x="256.5" y="289.3" width="14.5" height="31.4" fill="#000" stroke="#000" stroke-width="1.25"/>
<rect x="285.0" y="317.3" width="14.5" height="3.4" fill="#fff" stroke="#000" stroke-width="1.25"/>
<path d="M306.8,247.1 V230.9 M300.4,230.9 H312.9" stroke="#000" stroke-width="1.1" fill="none"/>
<rect x="299.5" y="247.1" width="14.5" height="73.6" fill="#8a8a8a" stroke="#000" stroke-width="1.25"/>
<path d="M321.2,298.1 V291.5 M314.9,291.5 H327.4" stroke="#000" stroke-width="1.1" fill="none"/>
<rect x="314.0" y="298.1" width="14.5" height="22.6" fill="#000" stroke="#000" stroke-width="1.25"/>
<rect x="343.4" y="317.3" width="14.5" height="3.4" fill="#fff" stroke="#000" stroke-width="1.25"/>
<path d="M365.1,314.7 V309.2 M358.8,309.2 H371.3" stroke="#000" stroke-width="1.1" fill="none"/>
<rect x="357.9" y="314.7" width="14.5" height="6.0" fill="#8a8a8a" stroke="#000" stroke-width="1.25"/>
<path d="M379.6,307.1 V305.0 M373.3,305.0 H385.8" stroke="#000" stroke-width="1.1" fill="none"/>
<rect x="372.4" y="307.1" width="14.5" height="13.6" fill="#000" stroke="#000" stroke-width="1.25"/>
<g transform="translate(195.5,330.5) rotate(-45)" font-size="9.8" font-weight="bold" fill="#000" stroke="#000" stroke-width="0.35"><text x="0" y="0.0" text-anchor="end">Cells Only</text></g>
<g transform="translate(253.8,331.5) rotate(-45)" font-size="9.8" font-weight="bold" fill="#000" stroke="#000" stroke-width="0.35"><text x="0" y="0.0" text-anchor="end">PT25-2</text></g>
<g transform="translate(311,328) rotate(-45)" font-size="9.8" font-weight="bold" fill="#000" stroke="#000" stroke-width="0.35"><text x="-0.0" y="0.0" text-anchor="end">PT25-2 +</text><text x="-5.6" y="9.6" text-anchor="end">RGDS</text></g>
<g transform="translate(371,328) rotate(-45)" font-size="9.8" font-weight="bold" fill="#000" stroke="#000" stroke-width="0.35"><text x="-0.0" y="0.0" text-anchor="end">PT25-2 +</text><text x="-7.4" y="9.6" text-anchor="end">EDTA</text></g>
</g>
</svg>
</body></html>
